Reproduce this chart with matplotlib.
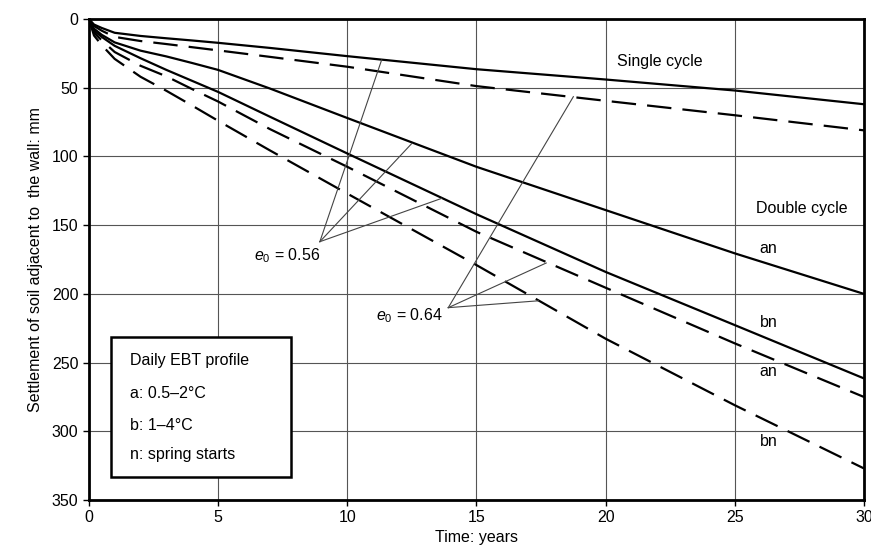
import matplotlib
matplotlib.use('Agg')
import matplotlib.pyplot as plt

plt.rcParams['font.family'] = ['Liberation Sans', 'DejaVu Sans']
plt.rcParams['mathtext.fontset'] = 'custom'
plt.rcParams['mathtext.it'] = 'Liberation Sans:italic'
plt.rcParams['mathtext.rm'] = 'Liberation Sans'

# time axis (years)
t = [0, 0.2, 0.5, 1, 2, 3, 4, 5, 7, 10, 15, 20, 25, 30]

# settlement (mm), e0 = 0.56 -> solid, e0 = 0.64 -> dashed
single_056 = [0, 4, 6.5, 10, 12.3, 14.0, 15.6, 17.3, 21, 27, 36.5, 44, 52, 62]
single_064 = [0, 5, 8.5, 13, 16, 18.2, 20.5, 22.8, 27.5, 34.7, 48.8, 59.5, 70, 81]
an_056 = [0, 7, 11.5, 17, 23, 27.2, 32, 37, 50.5, 72, 107.5, 139, 170.5, 200]
bn_056 = [0, 8.5, 13, 19.5, 28.5, 37, 45, 53, 71, 97.8, 142, 184, 222.7, 261.5]
an_064 = [0, 10, 15.5, 24, 34, 41.7, 51, 60, 80, 107.5, 154.8, 195.5, 236, 275]
bn_064 = [0, 12, 19, 29, 42, 52.2, 63, 74, 95.5, 127, 179, 232.6, 281, 327]

curve_labels = ['an', 'bn', 'an', 'bn']
label_y = [166.7, 221, 256.7, 307.6]

legend_lines = ['Daily EBT profile', 'a: 0.5\u20132\u00b0C', 'b: 1\u20134\u00b0C', 'n: spring starts']

fig = plt.figure(figsize=(8.71, 5.6), dpi=100)
ax = fig.add_axes([0.102, 0.107, 0.89, 0.859])

dash = (0, (11, 5))
lw = 1.6
for y in [single_056, an_056, bn_056]:
    ax.plot(t, y, color='black', lw=lw, solid_capstyle='butt')
for y in [single_064, an_064, bn_064]:
    ax.plot(t, y, color='black', lw=lw, linestyle=dash)

ax.set_xlim(0, 30)
ax.set_ylim(350, 0)
ax.set_xticks(range(0, 31, 5))
ax.set_yticks(range(0, 351, 50))
ax.grid(True, color='#555555', lw=0.8)
ax.set_axisbelow(True)
for s in ax.spines.values():
    s.set_linewidth(2)
ax.tick_params(labelsize=11.5, length=4, width=1, direction='out')
ax.set_xlabel('Time: years', fontsize=11.5, labelpad=3)
ax.set_ylabel('Settlement of soil adjacent to  the wall: mm', fontsize=11.5, labelpad=6)

fs = 11.5
ax.text(22.1, 31, 'Single cycle', fontsize=fs, ha='center', va='center')
ax.text(27.6, 137.6, 'Double cycle', fontsize=fs, ha='center', va='center',
        bbox=dict(facecolor='white', edgecolor='none', pad=1))
for lab, yy in zip(curve_labels, label_y):
    ax.text(26.3, yy, lab, fontsize=fs, ha='center', va='center',
            bbox=dict(facecolor='white', edgecolor='none', pad=0.5))

# pointer lines for e0 labels
apex1 = (8.94, 162)
for p in [(11.33, 29.8), (12.5, 90.5), (13.65, 130.5)]:
    ax.plot([apex1[0], p[0]], [apex1[1], p[1]], color='#444444', lw=0.8)
ax.text(8.94, 172, r'$e_0$ = 0.56', fontsize=fs, ha='right', va='center')

apex2 = (13.91, 210)
for p in [(18.75, 56.5), (17.7, 177.5), (17.4, 205)]:
    ax.plot([apex2[0], p[0]], [apex2[1], p[1]], color='#444444', lw=0.8)
ax.text(13.7, 215.5, r'$e_0$ = 0.64', fontsize=fs, ha='right', va='center')

# legend box
ax.add_patch(plt.Rectangle((0.875, 231.2), 6.95, 102.3, facecolor='white',
                           edgecolor='black', lw=1.8, zorder=3))
for txt, yy in zip(legend_lines, [248.7, 272.4, 295.5, 316.6]):
    ax.text(1.6, yy, txt, fontsize=fs, ha='left', va='center', zorder=4)

fig.savefig('out.png', dpi=100)
